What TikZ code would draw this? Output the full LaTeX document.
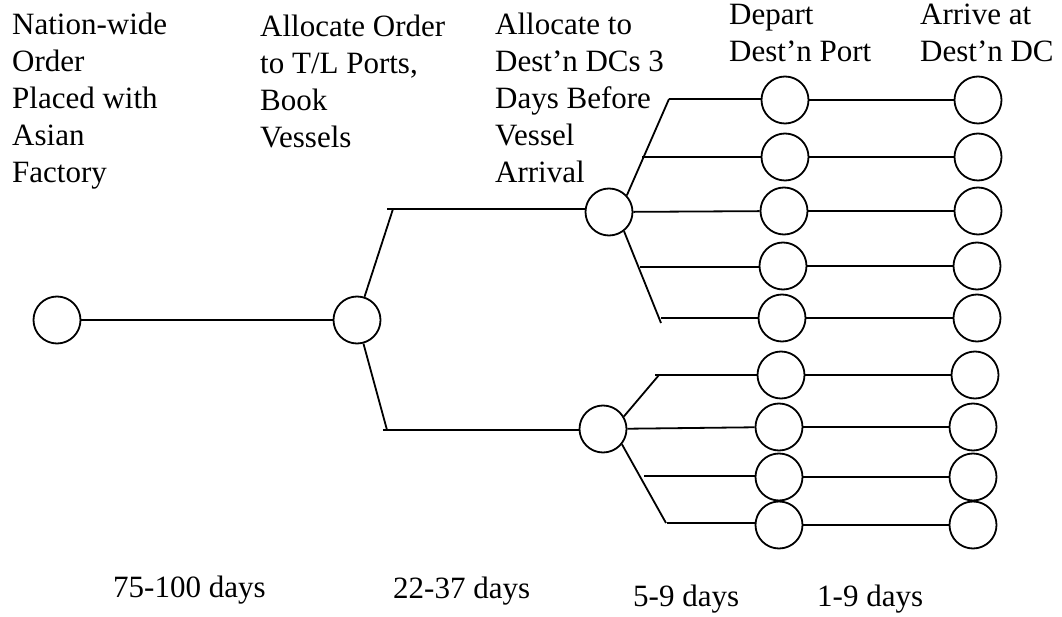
\documentclass[tikz,border=0pt]{standalone}
\usepackage{fontspec}
\setmainfont{Liberation Serif}
\begin{document}
\begin{tikzpicture}[x=1pt,y=-1pt,
  stage/.style={circle,draw,line width=1.8pt,minimum size=47pt,inner sep=0pt},
  link/.style={line width=1.8pt},
  lab/.style={anchor=base west,align=left,inner sep=0pt,font=\fontsize{31}{37}\selectfont},
]
\useasboundingbox[fill=white] (0,0) rectangle (1062,617);

% main stages
\node[stage] (A) at (57,320) {};
\node[stage] (B) at (357,320) {};
\node[stage] (C) at (609,212) {};
\node[stage] (D) at (603,429) {};

% ports and DCs
\foreach \i/\px/\qx/\yy in {1/785/978/100, 2/785/978/157, 3/784/978/211, 4/783/977/266, 5/782/977/318, 6/781/975/375, 7/779/973/427, 8/779/973/477, 9/779/973/525}{
  \node[stage] (P\i) at (\px,\yy) {};
  \node[stage] (Q\i) at (\qx,\yy) {};
  \draw[link] (P\i) -- (Q\i);
}

% A to B
\draw[link] (A) -- (B);

% B branches
\coordinate (bu) at (393,209);
\coordinate (bul) at (387,209);
\draw[link] (B) -- (bu);
\draw[link] (bul) -- (bul -| C.west);
\coordinate (bl) at (387,430);
\coordinate (bll) at (383,430);
\draw[link] (B) -- (bl);
\draw[link] (bll) -- (bll -| D.west);

% C branches
\coordinate (cu) at (669,99);
\draw[link] (C.43) -- (cu);
\draw[link] (cu) -- (cu -| P1.west);
\coordinate (c2) at (642,157);
\draw[link] (c2) -- (c2 -| P2.west);
\draw[link] (C) -- (P3);
\coordinate (cl) at (661,323);
\draw[link] (C.-52) -- (cl);
\coordinate (c4) at (640,267);
\draw[link] (c4) -- (c4 -| P4.west);
\coordinate (c5) at (661,318);
\draw[link] (c5) -- (c5 -| P5.west);

% D branches
\coordinate (du) at (659,375);
\coordinate (duh) at (655,375);
\draw[link] (D.31) -- (du);
\draw[link] (duh) -- (duh -| P6.west);
\draw[link] (D) -- (P7);
\coordinate (dl) at (666,523);
\draw[link] (D.-39) -- (dl);
\coordinate (d8) at (644,476);
\draw[link] (d8) -- (d8 -| P8.west);
\coordinate (d9) at (667,523);
\draw[link] (d9) -- (d9 -| P9.west);

% labels (anchor = baseline of last line)
\node[lab] (t1) at (12,183) {Nation-wide\\Order\\Placed with\\Asian\\Factory};
\node[lab] (t2) at (260,148) {Allocate Order\\to T/L Ports,\\Book\\Vessels};
\node[lab] (t3) at (495,183) {Allocate to\\Dest’n DCs 3\\Days Before\\Vessel\\Arrival};
\node[lab] (t4) at (729,62) {Depart\\Dest’n Port};
\node[lab] (t5) at (920,62) {Arrive at\\Dest’n DC};

\node[lab] (d1) at (113,597) {75-100 days};
\node[lab] (d2) at (393,598) {22-37 days};
\node[lab] (d3) at (633,606) {5-9 days};
\node[lab] (d4) at (817,606) {1-9 days};
\end{tikzpicture}
\end{document}
